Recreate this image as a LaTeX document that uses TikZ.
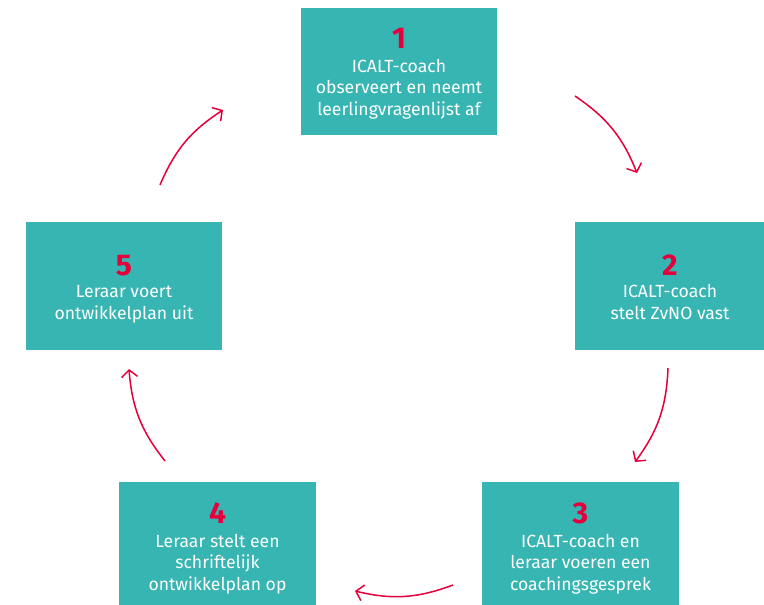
\documentclass[tikz,border=0pt]{standalone}
\usepackage{fontspec}
\setmainfont{Fira Sans}
\usetikzlibrary{arrows.meta}
\definecolor{tealbox}{HTML}{37B5B3}
\definecolor{redmark}{HTML}{E4003B}
\tikzset{
  stapbox/.style={rectangle, fill=tealbox, draw=none, inner sep=0pt},
  stapnum/.style={text=redmark, font=\fontsize{30}{30}\selectfont\bfseries, inner sep=0pt, anchor=base},
  staptxt/.style={text=white, align=center, font=\fontsize{17.6}{21.3}\selectfont, inner sep=0pt, anchor=base},
  pijl/.style={draw=redmark, line width=1.5pt, -{Straight Barb[length=7pt,width=16pt]}, bend left=17}
}
\begin{document}
\begin{tikzpicture}[x=1pt,y=-1pt]
\useasboundingbox (0,0) rectangle (764,605);
\clip (0,0) rectangle (764,605);
% boxes
\node[stapbox, minimum width=196pt, minimum height=127pt] (b1) at (399,71.5) {};
\node[stapbox, minimum width=190pt, minimum height=128pt] (b2) at (670,286) {};
\node[stapbox, minimum width=197pt, minimum height=127pt] (b3) at (580.5,545.5) {};
\node[stapbox, minimum width=197pt, minimum height=127pt] (b4) at (217.5,545.5) {};
\node[stapbox, minimum width=196pt, minimum height=128pt] (b5) at (124,286) {};
% numbers
\node[stapnum] (n1) at (399,48) {1};
\node[stapnum] (n2) at (670,275) {2};
\node[stapnum] (n3) at (580.5,523) {3};
\node[stapnum] (n4) at (217.5,523) {4};
\node[stapnum] (n5) at (124,275) {5};
% texts (base = last line baseline)
\node[staptxt] (t1) at (399,115) {ICALT-coach\\observeert en neemt\\leerlingvragenlijst af};
\node[staptxt] (t2) at (670,319) {ICALT-coach\\stelt ZvNO vast};
\node[staptxt] (t3) at (580.5,590) {ICALT-coach en\\leraar voeren een\\coachingsgesprek};
\node[staptxt] (t4) at (217.5,590) {Leraar stelt een\\schriftelijk\\ontwikkelplan op};
\node[staptxt] (t5) at (124,319) {Leraar voert\\ontwikkelplan uit};
% arrow ends
\coordinate (a1s) at (575,96);  \coordinate (a1e) at (637,173);
\coordinate (a2s) at (668,368); \coordinate (a2e) at (635,462);
\coordinate (a3s) at (453,585); \coordinate (a3e) at (355,591);
\coordinate (a4s) at (165,461); \coordinate (a4e) at (129,369);
\coordinate (a5s) at (160,185); \coordinate (a5e) at (223,110);
\draw[pijl] (a1s) to (a1e);
\draw[pijl] (a2s) to (a2e);
\draw[pijl] (a3s) to (a3e);
\draw[pijl] (a4s) to (a4e);
\draw[pijl] (a5s) to (a5e);
\end{tikzpicture}
\end{document}
